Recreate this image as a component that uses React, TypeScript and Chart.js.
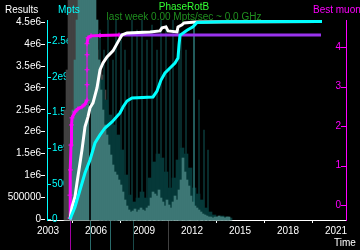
import React, { useEffect, useRef } from 'react';
import { Chart, registerables } from 'chart.js';

Chart.register(...registerables);

// ---------- axis ticks ----------
const YEAR_TICKS = [2003, 2006, 2009, 2012, 2015, 2018, 2021];
const RESULTS_TICKS = [0, 500000, 1000000, 1500000, 2000000, 2500000, 3000000, 3500000, 4000000, 4500000];
const RESULTS_LABELS = ['0', '500000', '1e6', '1.5e6', '2e6', '2.5e6', '3e6', '3.5e6', '4e6', '4.5e6'];
const MPTS_TICKS = [0, 5e8, 1e9, 1.5e9, 2e9, 2.5e9];
const MPTS_LABELS = ['0', '500e6', '1e9', '1.5e9', '2e9', '2.5e9'];
const MUON_TICKS = [0, 1, 2, 3, 4];
const MUON_LABELS = ['0', '1', '2', '3', '4'];

const TITLE = 'PhaseRotB';
const SUBTITLE = 'last week 0.00 Mpts/sec ~ 0.0 GHz';

// ---------- Results (white) ----------
const resultsYears = [2004.375, 2004.5, 2004.6875, 2004.8125, 2004.9375, 2005.125, 2005.3125, 2005.5, 2005.625, 2005.8125,
  2006.0625, 2006.25, 2006.4375, 2006.6875, 2007.0625, 2007.375, 2007.625, 2007.9375, 2009.375, 2010.0,
  2010.125, 2010.375, 2010.5, 2011.0625, 2011.125, 2011.375, 2011.5, 2012.1875, 2020.0625];
const resultsValues = [0, 285000, 514000, 833000, 1130000, 1587000, 2112000, 2340000, 2546000, 2660000,
  3002000, 3413000, 3573000, 3710000, 3847000, 4053000, 4212000, 4258000, 4281000, 4304000,
  4372000, 4395000, 4304000, 4281000, 4395000, 4441000, 4486000, 4509000, 4521000];

// ---------- Mpts (cyan) ----------
const mptsYears = [2004.375, 2004.6875, 2005.0, 2005.3125, 2005.625, 2005.9375, 2006.25, 2006.5625, 2007.0, 2007.5,
  2007.6875, 2007.9375, 2008.25, 2009.5625, 2009.8125, 2010.0625, 2010.3125, 2010.625, 2010.9375, 2011.125,
  2011.1875, 2011.25, 2011.6875, 2012.0625, 2012.3125, 2013.9375, 2020.125];
const mptsValues = [0, 0.173e9, 0.412e9, 0.652e9, 0.835e9, 1.074e9, 1.187e9, 1.285e9, 1.37e9, 1.496e9,
  1.581e9, 1.665e9, 1.708e9, 1.722e9, 1.806e9, 1.96e9, 2.06e9, 2.13e9, 2.2e9, 2.27e9,
  2.45e9, 2.59e9, 2.66e9, 2.71e9, 2.77e9, 2.78e9, 2.785e9];

// ---------- Best muon (magenta) ----------
const muonYears = [2004.375, 2004.375, 2004.40625, 2004.4375, 2004.46875, 2004.5, 2004.6875, 2004.875, 2005.125, 2005.3125,
  2005.4375, 2005.4375, 2005.4375, 2005.4375, 2005.4375, 2005.5, 2005.6875, 2006.25, 2007.4375];
const muonValues = [-0.33, 0.25, 0.89, 1.52, 2.03, 2.21, 2.36, 2.44, 2.49, 2.56,
  2.66, 3.05, 3.43, 3.81, 4.09, 4.24, 4.29, 4.30, 4.31];
const bestYears = [2007.4375, 2020.0625];
const bestValues = [4.31, 4.31];

// ---------- activity histograms ----------
const TEAL_START = 2004.375;
const TEAL_BIN = 0.125;
const tealActivity = [
  40, 110, 160, 200, 220, 220, 220, 220, 220, 220,
  220, 220, 220, 200, 160, 130, 110, 95, 85, 75,
  65, 55, 48, 45, 40, 35, 28, 20, 14, 10,
  8, 9, 11, 8, 10, 12, 10, 9, 12, 14,
  22, 28, 26, 24, 30, 22, 18, 14, 20, 15,
  12, 18, 24, 20, 30, 40, 62, 48, 40, 34,
  24, 18, 14, 12, 10, 8, 6, 5, 4, 3,
  3, 2, 3, 3, 4, 3, 3, 2, 3, 3];

const DARK_START = 2006.25;
const DARK_BIN = 0.25;
const darkActivity = [
  140, 120, 105, 95, 85, 70, 45, 25, 18, 22,
  28, 22, 42, 58, 66, 62, 48, 32, 42, 60,
  72, 66, 52, 32, 26, 20, 12, 8, 5, 3,
  4, 3, 2];

const GRAY_START = 2004.0;
const GRAY_BIN = 0.125;
const grayActivity = [
  110, 150, 220, 220, 220, 220, 220, 190, 170, 150,
  110, 60, 40, 30, 120, 160, 170, 160, 150, 145,
  130, 115, 100, 85, 65, 50, 40];

const spikeYears = [2006.25, 2006.5, 2006.75, 2007.0625, 2007.25, 2007.5625, 2007.8125, 2008.0625, 2008.25, 2008.5625,
  2008.875, 2009.1875, 2009.5, 2009.8125, 2010.0625, 2010.375, 2010.625, 2010.8125, 2011.1875, 2011.3125,
  2011.625, 2012.4375, 2012.75, 2013.0];
const spikeActivity = [190, 170, 200, 160, 200, 180, 170, 150, 200, 190,
  200, 180, 195, 170, 200, 195, 150, 200, 190, 185,
  170, 120, 90, 70];
const brightSpikeYears = [2012.125];
const brightSpikeActivity = [198];

const gapYears = [2005.625];
const gapActivity = [116];

const markerYears = [2004.375, 2005.625, 2006.875, 2008.3125, 2010.5];
const markerColors = ['#a000a0', '#2a6a6a', '#2a6a6a', '#1a4a4a', '#404040'];

const bins = (start: number, width: number, vals: number[]) =>
  vals.map((v, i) => ({ x: start + (i + 0.5) * width, y: v }));
const pts = (xs: number[], ys: number[]) => xs.map((x, i) => ({ x, y: ys[i] }));

const FONT = '"Liberation Sans", Arial, sans-serif';

const decor = {
  id: 'decor',
  beforeDraw(chart: any) {
    const { ctx, width, height } = chart;
    ctx.save();
    ctx.fillStyle = '#000';
    ctx.fillRect(0, 0, width, height);
    ctx.restore();
  },
  afterDraw(chart: any) {
    const ctx = chart.ctx;
    const xs = chart.scales.x;
    const yM = chart.scales.yM;
    const yB = chart.scales.yB;
    ctx.save();
    ctx.lineWidth = 1;
    ctx.strokeStyle = '#00ffff';
    MPTS_TICKS.forEach((v) => {
      const y = Math.round(yM.getPixelForValue(v)) + 0.5;
      ctx.beginPath();
      ctx.moveTo(yM.right, y);
      ctx.lineTo(yM.right + 4, y);
      ctx.stroke();
    });
    ctx.strokeStyle = '#ff00ff';
    MUON_TICKS.forEach((v) => {
      const y = Math.round(yB.getPixelForValue(v)) + 0.5;
      ctx.beginPath();
      ctx.moveTo(yB.left - 5, y);
      ctx.lineTo(yB.left, y);
      ctx.stroke();
    });
    markerYears.forEach((yr, i) => {
      const x = Math.round(xs.getPixelForValue(yr)) + 0.5;
      ctx.strokeStyle = markerColors[i];
      ctx.beginPath();
      ctx.moveTo(x, xs.top + 1);
      ctx.lineTo(x, chart.height);
      ctx.stroke();
    });
    ctx.font = '10px ' + FONT;
    ctx.textBaseline = 'alphabetic';
    ctx.textAlign = 'left';
    ctx.fillStyle = '#ffffff';
    ctx.fillText('Results', 5, 13);
    ctx.fillStyle = '#00ffff';
    ctx.fillText('Mpts', 58, 13);
    ctx.fillStyle = '#ff00ff';
    ctx.fillText('Best muon', 313, 13);
    ctx.fillStyle = '#ffffff';
    ctx.fillText('Time', 334, 246);
    ctx.textAlign = 'center';
    ctx.fillStyle = '#33ff33';
    ctx.fillText(TITLE, 184, 9.5);
    ctx.fillStyle = '#1f8f1f';
    ctx.fillText(SUBTITLE, 184, 19.5);
    ctx.restore();
  },
};

export default function App() {
  const ref = useRef<HTMLCanvasElement | null>(null);
  useEffect(() => {
    if (!ref.current) return;
    const bar = (data: any[], color: string, thickness: number, order: number) => ({
      type: 'bar' as const,
      data,
      yAxisID: 'yh',
      backgroundColor: color,
      borderWidth: 0,
      barThickness: thickness,
      grouped: false,
      clip: false as any,
      order,
    });
    const chart = new Chart(ref.current, {
      type: 'line',
      data: {
        datasets: [
          {
            type: 'line', data: pts(mptsYears, mptsValues), yAxisID: 'yM',
            borderColor: '#00ffff', borderWidth: 3, pointRadius: 0, fill: false, tension: 0, order: 1,
          },
          {
            type: 'line', data: pts(resultsYears, resultsValues), yAxisID: 'yR',
            borderColor: '#ffffff', borderWidth: 3, pointRadius: 0, fill: false, tension: 0, order: 2,
          },
          {
            type: 'line', data: pts(muonYears, muonValues), yAxisID: 'yB',
            borderColor: '#ff00ff', borderWidth: 3, pointRadius: 2.5, pointStyle: 'cross',
            pointBorderColor: '#ff00ff', pointBorderWidth: 1, fill: false, tension: 0, order: 3,
            segment: {
              borderWidth: (c: any) => (Math.abs(c.p0.parsed.x - c.p1.parsed.x) < 0.01 && c.p0.parsed.y > 2.6 ? 1 : 3),
            },
          },
          {
            type: 'line', data: pts(bestYears, bestValues), yAxisID: 'yB',
            borderColor: '#9933ee', borderWidth: 3, pointRadius: 0, fill: false, order: 4,
          },
          bar(pts(gapYears, gapActivity), '#000000', 1, 5),
          bar(bins(TEAL_START, TEAL_BIN, tealActivity), '#3d7775', 2, 6),
          bar(pts(brightSpikeYears, brightSpikeActivity), '#2a6e6e', 1, 7),
          bar(bins(DARK_START, DARK_BIN, darkActivity), '#053838', 4, 8),
          bar(pts(spikeYears, spikeActivity), '#0a3434', 1, 9),
          bar(bins(GRAY_START, GRAY_BIN, grayActivity), '#414141', 2, 10),
        ] as any,
      },
      options: {
        animation: false,
        responsive: false,
        maintainAspectRatio: false,
        layout: { padding: { top: 20, left: 0, right: 0, bottom: 0 } },
        plugins: { legend: { display: false }, tooltip: { enabled: false }, title: { display: false } },
        scales: {
          x: {
            type: 'linear', min: 2002.9375, max: 2021.625, offset: false,
            afterBuildTicks: (s: any) => { s.ticks = YEAR_TICKS.map((v) => ({ value: v })); },
            afterFit: (s: any) => { s.height = 30; },
            ticks: { color: '#ffffff', padding: 2, autoSkip: false, maxRotation: 0, font: { family: FONT, size: 10 },
              callback: (v: any) => String(v) },
            grid: { display: true, drawOnChartArea: false, drawTicks: true, tickLength: 3, color: '#ffffff' },
            border: { display: true, color: '#ffffff', width: 1 },
          },
          yR: {
            type: 'linear', position: 'left', weight: 10, min: -16000, max: 4552500,
            afterBuildTicks: (s: any) => { s.ticks = RESULTS_TICKS.map((v) => ({ value: v })); },
            afterFit: (s: any) => { s.width = 45; },
            ticks: { color: '#ffffff', padding: 0, autoSkip: false, font: { family: FONT, size: 10 },
              callback: (_v: any, i: number) => RESULTS_LABELS[i] },
            grid: { display: true, drawOnChartArea: false, drawTicks: true, tickLength: 4, color: '#ffffff' },
            border: { display: false },
          },
          yM: {
            type: 'linear', position: 'left', weight: 0, min: -1e7, max: 2.805e9,
            afterBuildTicks: (s: any) => { s.ticks = MPTS_TICKS.map((v) => ({ value: v })); },
            afterFit: (s: any) => { s.width = 2; },
            ticks: { color: '#00ffff', mirror: true, padding: 5, autoSkip: false, font: { family: FONT, size: 10 },
              callback: (_v: any, i: number) => MPTS_LABELS[i] },
            grid: { display: false },
            border: { display: true, color: '#00ffff', width: 1 },
          },
          yB: {
            type: 'linear', position: 'right', min: -0.3805, max: 4.6925,
            afterBuildTicks: (s: any) => { s.ticks = MUON_TICKS.map((v) => ({ value: v })); },
            afterFit: (s: any) => { s.width = 14; },
            ticks: { color: '#ff00ff', mirror: true, padding: -5, autoSkip: false, font: { family: FONT, size: 10 },
              callback: (_v: any, i: number) => MUON_LABELS[i] },
            grid: { display: false },
            border: { display: true, color: '#ff00ff', width: 1 },
          },
          yh: { type: 'linear', display: false, min: 0, max: 200 },
        } as any,
      },
      plugins: [decor],
    });
    return () => chart.destroy();
  }, []);
  return (
    <div style={{ position: 'fixed', left: 0, top: 0, width: 360, height: 250, background: '#000' }}>
      <canvas ref={ref} width={360} height={250} style={{ width: 360, height: 250, display: 'block' }} />
    </div>
  );
}
